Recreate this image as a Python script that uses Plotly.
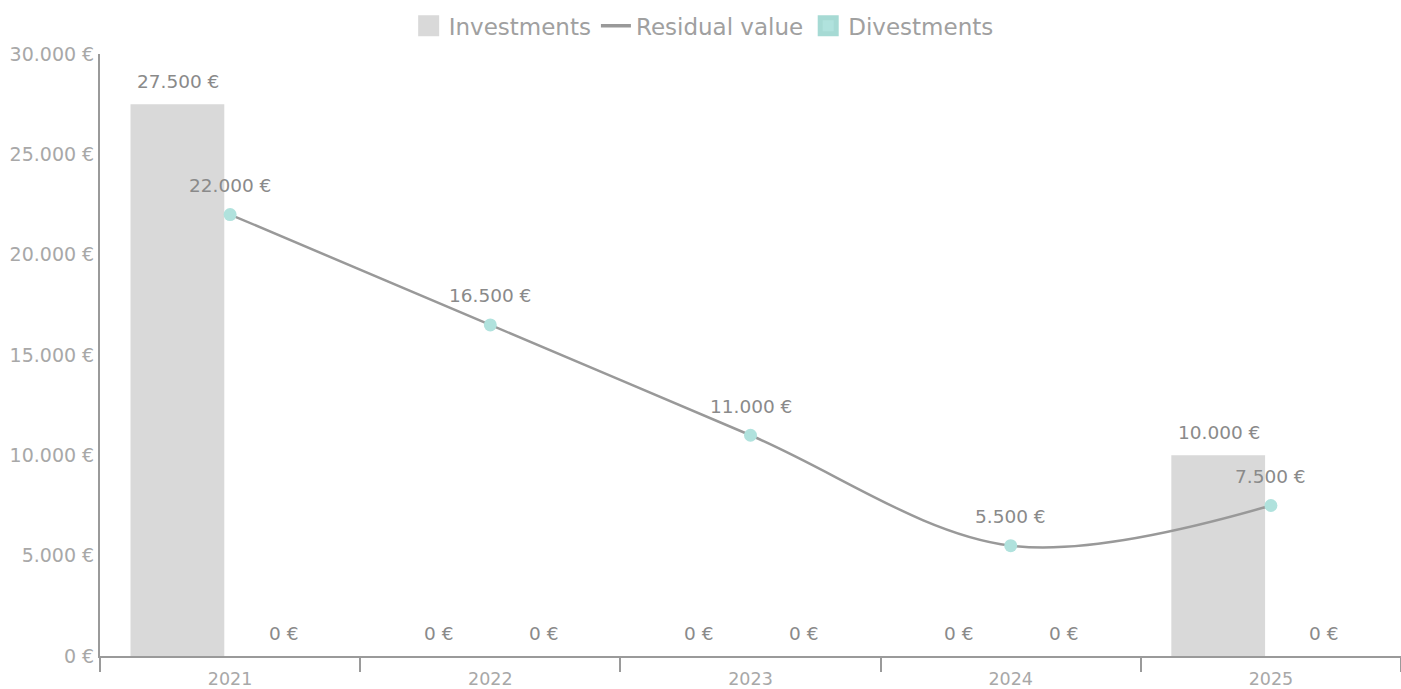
import plotly.graph_objects as go

years = ["2021", "2022", "2023", "2024", "2025"]
investments = [27500, 0, 0, 0, 10000]
divestments = [0, 0, 0, 0, 0]
residual_value = [22000, 16500, 11000, 5500, 7500]

FONT = "DejaVu Sans"
AXIS_GREY = "#9a9a9a"
TICK_GREY = "#a8a8a8"
LABEL_GREY = "#8a8a8a"
BAR_GREY = "#d9d9d9"
TEAL = "#b0e2dd"


def euro(v):
    return f"{v:,.0f}".replace(",", ".") + " €"


fig = go.Figure()
fig.add_trace(go.Bar(
    name="Investments", x=years, y=investments,
    marker=dict(color=BAR_GREY, line=dict(width=0)),
    showlegend=False,
))
fig.add_trace(go.Scatter(
    name="Residual value", x=years, y=residual_value,
    mode="lines+markers",
    line=dict(color="#999999", width=2.5, shape="spline", smoothing=1),
    marker=dict(color=TEAL, size=13, line=dict(width=0)),
    showlegend=False,
))
fig.add_trace(go.Bar(
    name="Divestments", x=years, y=divestments,
    marker=dict(color=TEAL, line=dict(width=0)),
    showlegend=False,
))

# legend entries: large swatches for the bar series, plain line for the residual value
fig.add_trace(go.Scatter(
    name="Investments", x=[None], y=[None], mode="markers",
    marker=dict(symbol="square", size=16, color=BAR_GREY,
                line=dict(color=BAR_GREY, width=5)),
))
fig.add_trace(go.Scatter(
    name="Residual value", x=[None], y=[None], mode="lines",
    line=dict(color="#999999", width=3.5),
))
fig.add_trace(go.Scatter(
    name="Divestments", x=[None], y=[None], mode="markers",
    marker=dict(symbol="square", size=16, color=TEAL,
                line=dict(color="#a6dad4", width=5)),
))

annotations = []
# value labels above each bar of the group (x given as category index)
for i, (inv, div) in enumerate(zip(investments, divestments)):
    for val, dx in ((inv, -52), (div, 53)):
        annotations.append(dict(
            x=i, y=val, xref="x", yref="y", text=euro(val),
            showarrow=False, xshift=dx, yshift=23,
            font=dict(family=FONT, size=18.5, color=LABEL_GREY),
        ))
# labels above the residual value points
for i, val in enumerate(residual_value):
    annotations.append(dict(
        x=i, y=val, xref="x", yref="y", text=euro(val),
        showarrow=False, yshift=29,
        font=dict(family=FONT, size=18.5, color=LABEL_GREY),
    ))

fig.update_layout(
    width=1401, height=689,
    margin=dict(l=100, r=0, t=54, b=33),
    paper_bgcolor="white", plot_bgcolor="white",
    font=dict(family=FONT, color=TICK_GREY),
    separators=",.",
    barmode="group", bargap=0.19, bargroupgap=0.11,
    showlegend=True,
    legend=dict(
        orientation="h", x=0.464, xanchor="center",
        y=1.047, yanchor="middle",
        font=dict(family=FONT, size=23, color="#a0a0a0"),
        traceorder="normal", itemsizing="trace",
    ),
    annotations=annotations,
)
fig.update_xaxes(
    type="category", categoryorder="array", categoryarray=years,
    range=[-0.5, len(years) - 0.5], automargin=False,
    showgrid=False, zeroline=False,
    showline=True, linecolor=AXIS_GREY, linewidth=2,
    ticks="outside", tickson="boundaries", ticklen=14, tickwidth=2,
    tickcolor=AXIS_GREY, ticklabelstandoff=6,
    tickfont=dict(family=FONT, size=17.5, color=TICK_GREY),
)
fig.update_yaxes(
    range=[0, 30000], dtick=5000, tickformat=",.0f", ticksuffix=" €",
    automargin=False,
    showgrid=False, zeroline=False,
    showline=True, linecolor=AXIS_GREY, linewidth=2, ticks="",
    tickfont=dict(family=FONT, size=19, color=TICK_GREY),
)

fig.write_html("out.html")
